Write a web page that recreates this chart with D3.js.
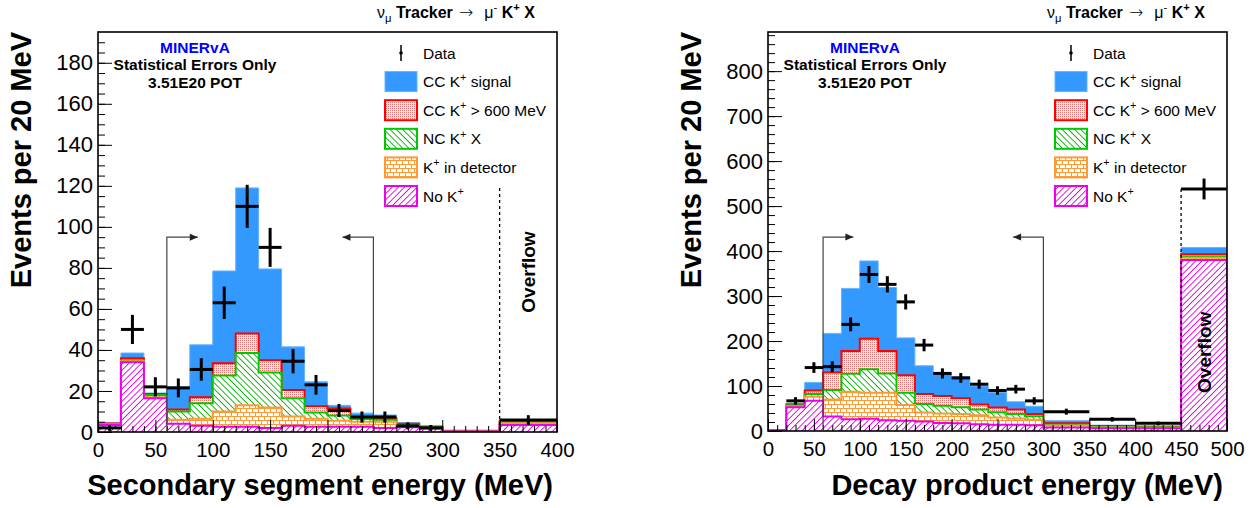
<!DOCTYPE html>
<html>
<head>
<meta charset="utf-8">
<script src="https://cdn.jsdelivr.net/npm/d3@7"></script>
<style>
  body { margin: 0; background: #fff; }
  text { font-family: "Liberation Sans", Arial, Helvetica, sans-serif; white-space: pre; }
</style>
</head>
<body>
<svg id="chart" width="1254" height="508"></svg>
<script>
// ---- left panel: secondary segment energy ----
const leftEdges  = [0,20,40,60,80,100,120,140,160,180,200,220,240,260,280,300,350,400];
const leftNoK    = [3.4,34,16.5,4,3,2.5,2.5,2,3,2.5,2.5,2.5,2,2.3,1.7,0.2,3.4];
const leftInDet  = [0.2,0.5,0.5,2,3.5,7.5,10.5,10,4.5,4,3,2.5,3,0.7,0.3,0.1,0.9];
const leftNC     = [0.2,0.5,1,4,7.5,17.5,25.5,17,9,3,2.5,1.3,1,0.5,0.3,0.1,0.5];
const leftHigh   = [0.3,1,0.5,1,3,6,9.5,6,4,3,3.5,1,0.8,0.5,0.3,0.2,0.5];
const leftSignal = [0.4,2.5,0.5,11,25.5,45,71,44.5,21,12,1.5,1.9,1.5,0.6,0.4,0.1,0.6];
const leftData   = [2,50,22,21.5,30.5,63,110,90,34.5,23,10.5,7.3,7.3,3,2,0,5.8];
const leftErr    = [1.4,7.1,4.7,4.6,5.5,7.9,10.5,9.5,5.9,4.8,3.2,2.7,2.7,1.7,1.4,0,2.4];

// ---- right panel: decay product energy ----
const rightEdges  = [0,20,40,60,80,100,120,140,160,180,200,220,240,260,280,300,350,400,450,500];
const rightNoK    = [1.5,53,67,32,26,27,24,23,21,18,17,15,14,14,13,8,6,6,380];
const rightInDet  = [0.2,2,9,38,61,58,61,35,20,21,21,20,16,14,12,4,2,1.5,5];
const rightNC     = [0.1,2,6,21,40,52,43,27,19,17,15,13,11.5,10,8,2,1.5,1,3];
const rightHigh   = [0.2,2,8,39,51,68,50,39,22,22,20,11,10.5,10,5,3,1.5,1,5];
const rightSignal = [0.2,2,18,87,139,173,141,83,63,48,48,41,34,17,17,6,2,1.5,15];
const rightData   = [0,67,141,143,237,348,326,287,191,128,118,104,90,93,67,43,26,17,538];
const rightErr    = [0,8.2,11.9,12,15.4,18.7,18.1,16.9,13.8,11.3,10.9,10.2,9.5,9.6,8.2,6.6,5.1,4.1,23.2];

// legend / annotation text
const layerKeys   = ["noK", "inDet", "nc", "high", "signal"];
const legendItems = [
  [["Data", ""]],
  [["CC K", ""], ["+", "sup"], [" signal", ""]],
  [["CC K", ""], ["+", "sup"], [" > 600 MeV", ""]],
  [["NC K", ""], ["+", "sup"], [" X", ""]],
  [["K", ""], ["+", "sup"], [" in detector", ""]],
  [["No K", ""], ["+", "sup"]]
];
const titleSegs = [["ν", ""], ["μ", "sub"], [" Tracker ", "b"], ["→", "arrow", 2], ["  μ", "", 2], ["-", "sup"],
                   [" K", "b"], ["+", "bsup"], [" X", "b"]];
const infoLines = ["MINERvA", "Statistical Errors Only", "3.51E20 POT"];

const svg = d3.select("#chart");
svg.append("rect").attr("width", 1254).attr("height", 508).attr("fill", "#fff");

// fill patterns, roughly like the ROOT ones
const defs = svg.append("defs");
function pattern(id, w, h, rot) {
  const p = defs.append("pattern").attr("id", id).attr("patternUnits", "userSpaceOnUse")
    .attr("width", w).attr("height", h);
  if (rot) p.attr("patternTransform", `rotate(${rot})`);
  p.append("rect").attr("width", w).attr("height", h).attr("fill", "#fff");
  return p;
}
pattern("dots", 2, 2).append("rect").attr("width", 1).attr("height", 1).attr("fill", "#ff6a6a");
pattern("hatchG", 4.4, 4.4, 45).append("rect").attr("width", 4.4).attr("height", 0.9).attr("fill", "#00b400");
pattern("hatchM", 4.4, 4.4, -45).append("rect").attr("width", 4.4).attr("height", 0.9).attr("fill", "#e000e0");
const brick = pattern("brick", 6, 8);
brick.append("rect").attr("y", 0).attr("width", 6).attr("height", 1).attr("fill", "#ff9933");
brick.append("rect").attr("y", 4).attr("width", 6).attr("height", 1).attr("fill", "#ff9933");
brick.append("rect").attr("x", 0).attr("width", 1).attr("height", 4).attr("fill", "#ff9933");
brick.append("rect").attr("x", 3).attr("y", 4).attr("width", 1).attr("height", 4).attr("fill", "#ff9933");

const styles = {
  signal: { fill: "#3399ff", stroke: "#66b3ff", sw: 1 },
  high:   { fill: "url(#dots)", stroke: "#ff0000", sw: 2 },
  nc:     { fill: "url(#hatchG)", stroke: "#00c800", sw: 2 },
  inDet:  { fill: "url(#brick)", stroke: "#ff9933", sw: 2 },
  noK:    { fill: "url(#hatchM)", stroke: "#ee00ee", sw: 2 }
};

// text with super/subscripts built from tspans
function richText(sel, x, y, segs, size, anchor, weight) {
  const t = sel.append("text").attr("x", x).attr("y", y).attr("font-size", size)
    .attr("text-anchor", anchor || "start").attr("font-weight", weight || "normal");
  let shift = 0;
  segs.forEach(([s, k, dx]) => {
    let target = 0;
    if (k === "sup" || k === "bsup") target = -0.42 * size;
    if (k === "sub") target = 0.25 * size;
    const ts = t.append("tspan").text(s).attr("dy", target - shift);
    shift = target;
    if (dx) ts.attr("dx", dx);
    if (k === "sup" || k === "bsup" || k === "sub") ts.attr("font-size", size * 0.7);
    if (k === "b" || k === "bsup") ts.attr("font-weight", "bold");
    if (k === "arrow") ts.attr("font-family", '"DejaVu Sans", sans-serif').attr("font-size", size * 1.05)
      .attr("font-weight", 300);
  });
  return t;
}

function drawPanel(p) {
  const g = svg.append("g");
  const nE = p.edges.length;
  const x = d3.scaleLinear().domain([p.edges[0], p.edges[nE - 1]]).range([p.left, p.right]);
  const y = d3.scaleLinear().domain([0, p.yMax]).range([p.bottom, p.top]);

  const clipId = "clip" + p.id;
  defs.append("clipPath").attr("id", clipId).append("rect")
    .attr("x", p.left).attr("y", p.top).attr("width", p.right - p.left).attr("height", p.bottom - p.top);

  // stacked histograms
  const rows = p.data.map((d, i) => ({
    noK: p.noK[i], inDet: p.inDet[i], nc: p.nc[i], high: p.high[i], signal: p.signal[i]
  }));
  const series = d3.stack().keys(layerKeys)(rows);

  const area = d3.area().x(d => x(d.e)).y0(y(0)).y1(d => y(d.v));
  const line = d3.line().x(d => x(d.e)).y(d => y(d.v));
  const hist = g.append("g").attr("clip-path", `url(#${clipId})`);

  // top layer first, lower layers painted over it (as THStack does)
  series.slice().reverse().forEach(s => {
    const st = styles[s.key];
    const pts = s.flatMap((d, i) => [{ e: p.edges[i], v: d[1] }, { e: p.edges[i + 1], v: d[1] }]);
    hist.append("path").attr("d", area(pts)).attr("fill", "#fff");
    hist.append("path").attr("d", area(pts)).attr("fill", st.fill);
    const outline = [{ e: p.edges[0], v: 0 }, ...pts, { e: p.edges[nE - 1], v: 0 }];
    hist.append("path").attr("d", line(outline)).attr("fill", "none")
      .attr("stroke", st.stroke).attr("stroke-width", st.sw);
  });

  // axes, ticks inside the frame
  const xAxisMinor = d3.axisBottom(x).tickValues(d3.range(p.edges[0], p.edges[nE - 1] + 1, 10))
    .tickSize(-6).tickFormat("");
  const xAxis = d3.axisBottom(x).tickValues(d3.range(p.edges[0], p.edges[nE - 1] + 1, 50))
    .tickSize(-12).tickPadding(10).tickFormat(d3.format("d"));
  const yAxisMinor = d3.axisLeft(y).tickValues(d3.range(0, p.yMax, p.yMinor)).tickSize(-7).tickFormat("");
  const yAxis = d3.axisLeft(y).tickValues(d3.range(0, p.yMax, p.yMajor)).tickSize(-14).tickPadding(5)
    .tickFormat(d3.format("d"));

  [[xAxisMinor, "x"], [xAxis, "x"], [yAxisMinor, "y"], [yAxis, "y"]].forEach(([ax, dir]) => {
    const a = g.append("g")
      .attr("transform", dir === "x" ? `translate(0,${p.bottom})` : `translate(${p.left},0)`)
      .call(ax);
    a.select(".domain").remove();
    a.selectAll("line").attr("stroke", "#000");
    a.selectAll("text").attr("font-size", dir === "x" ? 20.5 : 22).attr("fill", "#000")
      .attr("font-family", '"Liberation Sans", Arial, sans-serif');
  });

  // frame
  g.append("rect").attr("x", p.left).attr("y", p.top)
    .attr("width", p.right - p.left).attr("height", p.bottom - p.top)
    .attr("fill", "none").attr("stroke", "#000").attr("stroke-width", 1.6);

  // overflow marker
  g.append("line").attr("x1", x(p.overflowAt)).attr("x2", x(p.overflowAt))
    .attr("y1", y(p.dashTop)).attr("y2", p.bottom)
    .attr("stroke", "#000").attr("stroke-width", 1.3).attr("stroke-dasharray", "3,3");
  g.append("text").attr("transform", `translate(${x(p.overflowLabel[0])},${y(p.overflowLabel[1])}) rotate(-90)`)
    .attr("text-anchor", "middle").attr("dominant-baseline", "central")
    .attr("font-size", 19).attr("font-weight", "bold").text("Overflow");

  // cut arrows
  p.cuts.forEach(c => {
    const xa = x(c.at), xb = x(c.at + c.dir * c.len), ya = y(c.yv);
    g.append("path").attr("d", `M${xa},${p.bottom}V${ya}H${xb}`)
      .attr("fill", "none").attr("stroke", "#444").attr("stroke-width", 1.2);
    g.append("path").attr("d", `M${xb},${ya}l${-c.dir * 8},-3.5v7z`).attr("fill", "#222");
  });

  // data points with bin-width x errors
  const dp = g.append("g").attr("stroke", "#000").attr("stroke-width", 3);
  p.data.forEach((v, i) => {
    if (v <= 0) return;
    const x0 = x(p.edges[i]), x1 = x(p.edges[i + 1]), xc = (x0 + x1) / 2;
    dp.append("line").attr("x1", x0).attr("x2", x1).attr("y1", y(v)).attr("y2", y(v));
    dp.append("line").attr("x1", xc).attr("x2", xc).attr("y1", y(v - p.err[i])).attr("y2", y(v + p.err[i]));
  });

  // labels
  g.append("text").attr("transform", `translate(${p.left - 67},${p.top}) rotate(-90)`)
    .attr("text-anchor", "end").attr("font-size", 29).attr("font-weight", "bold")
    .text("Events per 20 MeV");
  g.append("text").attr("x", p.right - 4).attr("y", 495).attr("text-anchor", "end")
    .attr("font-size", 29).attr("font-weight", "bold").text(p.xTitle);

  richText(g, p.right - 180, 18, titleSegs, 16, "start");

  const cx = p.left + 97;
  infoLines.forEach((s, i) => {
    g.append("text").attr("x", cx).attr("y", [53, 70, 88][i]).attr("text-anchor", "middle")
      .attr("font-size", 15.5).attr("font-weight", "bold")
      .attr("fill", i === 0 ? "#0000ff" : "#000").text(s);
  });

  // legend
  const lx = p.right - 172;
  legendItems.forEach((segs, i) => {
    const cy = 53 + i * 28.6;
    if (i === 0) {
      g.append("line").attr("x1", lx + 16).attr("x2", lx + 16).attr("y1", cy - 8).attr("y2", cy + 8)
        .attr("stroke", "#000").attr("stroke-width", 1.5);
      g.append("circle").attr("cx", lx + 16).attr("cy", cy).attr("r", 1.8).attr("fill", "#000");
    } else {
      const st = styles[layerKeys[5 - i]];
      g.append("rect").attr("x", lx).attr("y", cy - 10).attr("width", 32).attr("height", 20)
        .attr("fill", "#fff");
      g.append("rect").attr("x", lx).attr("y", cy - 10).attr("width", 32).attr("height", 20)
        .attr("fill", st.fill).attr("stroke", st.stroke).attr("stroke-width", st.sw);
    }
    richText(g, lx + 38, cy + 5.5, segs, 15.5, "start");
  });
}

drawPanel({
  id: "L", left: 98, right: 557, top: 32, bottom: 432, yMax: 195, yMajor: 20, yMinor: 5,
  edges: leftEdges, noK: leftNoK, inDet: leftInDet, nc: leftNC, high: leftHigh, signal: leftSignal,
  data: leftData, err: leftErr, xTitle: "Secondary segment energy (MeV)",
  overflowAt: 350, dashTop: 119, overflowLabel: [375, 78],
  cuts: [{ at: 60, dir: 1, len: 27, yv: 95 }, { at: 240, dir: -1, len: 27, yv: 95 }]
});

drawPanel({
  id: "R", left: 768, right: 1227, top: 32, bottom: 431, yMax: 887, yMajor: 100, yMinor: 20,
  edges: rightEdges, noK: rightNoK, inDet: rightInDet, nc: rightNC, high: rightHigh, signal: rightSignal,
  data: rightData, err: rightErr, xTitle: "Decay product energy (MeV)",
  overflowAt: 450, dashTop: 538, overflowLabel: [476, 175],
  cuts: [{ at: 60, dir: 1, len: 33, yv: 431 }, { at: 300, dir: -1, len: 33, yv: 431 }]
});
</script>
</body>
</html>
